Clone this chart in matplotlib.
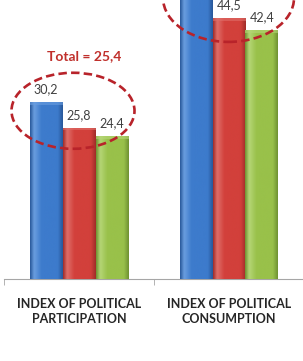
import matplotlib
matplotlib.use("Agg")
import matplotlib.pyplot as plt
from matplotlib.patches import Ellipse, Rectangle
import numpy as np

categories = ["INDEX OF POLITICAL\nPARTICIPATION", "INDEX OF POLITICAL\nCONSUMPTION"]
series_blue = [30.2, 49.0]
series_red = [25.8, 44.5]
series_green = [24.4, 42.4]
total_label = "Total = 25,4"

plt.rcParams["font.family"] = ["Lato", "DejaVu Sans"]

W, H = 303, 361
fig = plt.figure(figsize=(W / 100, H / 100), dpi=100)
ax = fig.add_axes([4 / W, 82 / H, 300 / W, 279 / H])
ax.set_xlim(-0.5, 1.5)
ax.set_ylim(0, 47.6)

# base colour, dark edge colour for the pseudo-3D look
styles = [("#3d7bcc", "#28589a", "#6a9ee0"),
          ("#d2403b", "#a02c29", "#e06e69"),
          ("#99c14a", "#6f9232", "#b5d676")]
width = 0.22
offsets = [-width, 0, width]

for vals, off, (mid, edge, light) in zip([series_blue, series_red, series_green], offsets, styles):
    bars = ax.bar(np.arange(len(categories)) + off, vals, width, color=mid, zorder=2)
    cmap = matplotlib.colors.LinearSegmentedColormap.from_list(
        "g", [(0, edge), (0.12, light), (0.35, mid), (0.85, mid), (1, edge)])
    grad = np.linspace(0, 1, 64).reshape(1, -1)
    for b in bars:
        x0, w, h = b.get_x(), b.get_width(), b.get_height()
        im = ax.imshow(grad, cmap=cmap, aspect="auto", extent=[x0, x0 + w, 0, h],
                       zorder=3, interpolation="bicubic")
        im.set_clip_path(b)
        ax.add_patch(Rectangle((x0, h - 0.45), w, 0.45, color=light, alpha=0.6,
                               lw=0, zorder=4))
        ax.annotate(f"{h:.1f}".replace(".", ","), (x0 + w / 2, h), xytext=(0, 9.4),
                    textcoords="offset points", ha="center", va="center",
                    fontsize=9, color="#404040", zorder=5)

ax.set_xlim(-0.5, 1.5)
ax.set_ylim(0, 47.6)

ax.text(0.033, 38.05, total_label, ha="center", va="center", fontsize=10,
        fontweight="bold", color="#c0302c")

for (cx, cy, ew, eh) in [(-0.04, 28.7, 0.82, 12.97), (0.997, 47.95, 0.873, 15.0)]:
    ax.add_patch(Ellipse((cx, cy), ew, eh, fill=False, ec="#b8232a", lw=1.9,
                         ls=(0, (3.2, 1.6)), zorder=6, clip_on=False))

for s in ["top", "right", "left"]:
    ax.spines[s].set_visible(False)
ax.spines["bottom"].set_color("#a6a6a6")
ax.set_yticks([])
ax.set_xticks([0, 1])
ax.set_xticklabels(categories, fontsize=9, fontweight="bold", color="#262626",
                   linespacing=1.25)
ax.tick_params(axis="x", length=0, pad=14)
ax.set_xticks([-0.5, 0.5, 1.5], minor=True)
ax.tick_params(axis="x", which="minor", length=4, color="#a6a6a6", direction="out")

fig.savefig("out.png", dpi=100)
